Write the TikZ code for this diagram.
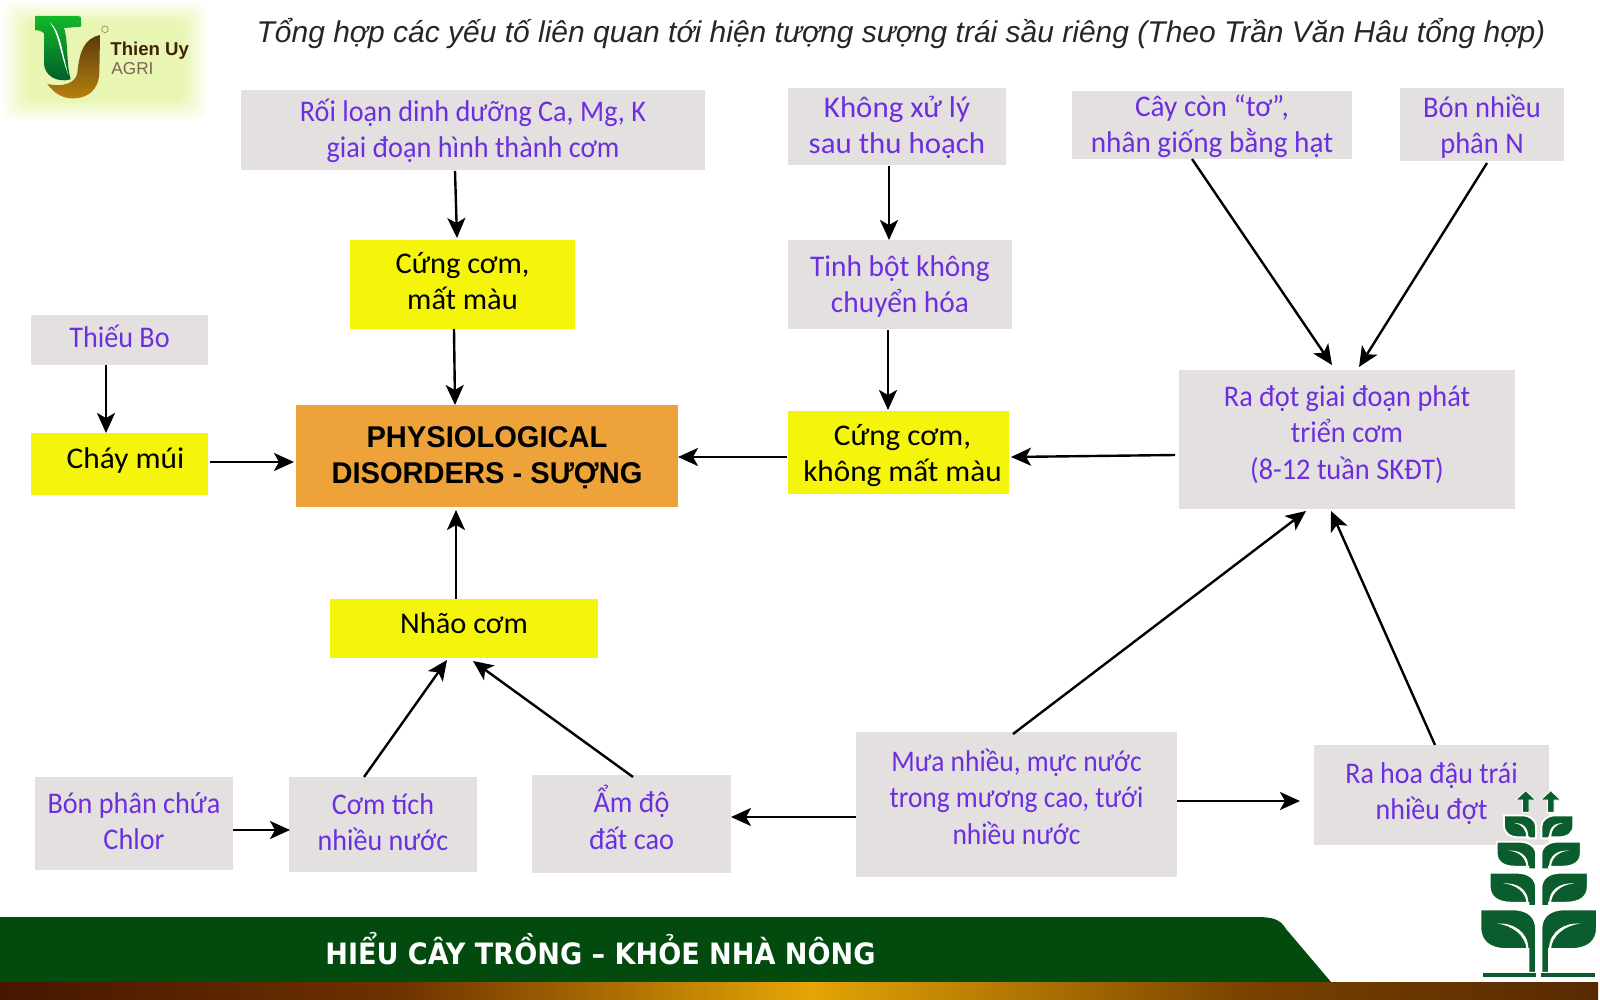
\documentclass[tikz,border=0pt]{standalone}
\usepackage{graphicx}
\usepackage{fontspec}
\setmainfont{Carlito}
\newfontfamily\arialf{Liberation Sans}
\newfontfamily\bannerf{DejaVu Sans Condensed}[BoldFont={DejaVu Sans Condensed Bold}]
\usetikzlibrary{arrows.meta,shadings}
\definecolor{txtpurple}{HTML}{6B2FE0}
\definecolor{boxgrey}{HTML}{E5E0E0}
\definecolor{boxyellow}{HTML}{F4F50A}
\definecolor{boxorange}{HTML}{EDA33A}
\definecolor{bannergreen}{HTML}{034A0E}
\definecolor{plantgreen}{HTML}{0B5D2D}
\definecolor{logobrown}{HTML}{3F2208}
\definecolor{glowlime}{HTML}{E9F6B3}
\definecolor{tgreenA}{HTML}{12B82A}
\definecolor{tgreenB}{HTML}{005A28}
\definecolor{jgoldA}{HTML}{5A3A08}
\definecolor{jgoldB}{HTML}{B8820F}
\tikzset{
  x=0.5pt,y=-0.5pt,
  greybox/.style={fill=boxgrey,text=txtpurple,font=\fontsize{15}{18.2}\selectfont,inner sep=0pt,outer sep=0pt},
  yellowbox/.style={fill=boxyellow,text=black,font=\fontsize{15}{18.2}\selectfont,inner sep=0pt,outer sep=0pt},
  orangebox/.style={fill=boxorange,text=black,font=\arialf\bfseries\fontsize{15}{18.2}\selectfont,inner sep=0pt,outer sep=0pt},
  arr/.style={-{Stealth[length=10pt,width=9pt,inset=2.5pt]},line width=1.2pt,black},
}
\newcommand{\tb}[3]{\smash{\raisebox{#1}{\scalebox{#2}[1]{\begin{tabular}{@{}c@{}}#3\end{tabular}}}}}
\newcommand{\boxnode}[7]{%
  \pgfmathsetmacro{\bw}{(#5-#3)*0.5}\pgfmathsetmacro{\bh}{(#6-#4)*0.5}%
  \pgfmathsetmacro{\bx}{(#3+#5)/2}\pgfmathsetmacro{\by}{(#4+#6)/2}%
  \node[#2,minimum width=\bw pt,minimum height=\bh pt] (#1) at (\bx,\by) {#7};}
\newcommand{\plantleaf}[4]{% outer distance, top, leaf bottom, stem bottom
  \pgfmathsetmacro{\hh}{#3-#2}\pgfmathsetmacro{\ww}{#1}%
  \pgfmathsetmacro{\ya}{#2+0.36*\hh}%
  \path[fill=plantgreen,draw=white,line width=0.9pt]
    (-\ww,#2) -- (-\ww*0.45,#2) .. controls (-30,#2) and (-8,#2+0.2*\hh) .. (-8,#2+0.5*\hh)
    -- (-8,#4) -- (-31,#4) -- (-31,#3) -- (-\ww*0.55,#3)
    .. controls (-\ww*0.85,#3) and (-\ww,#2+0.8*\hh) .. (-\ww,#2+0.45*\hh) -- cycle;
  \path[fill=white]
    (-\ww*0.72,\ya) .. controls (-\ww*0.45,\ya-0.04*\hh) and (-31,\ya+0.2*\hh) .. (-31,#3)
    -- (-37,#3) .. controls (-38,\ya+0.32*\hh) and (-\ww*0.45,\ya+0.03*\hh) .. cycle;
}
\begin{document}
\begin{tikzpicture}
\useasboundingbox (0,0) rectangle (1600,1000);
\fill[white] (0,0) rectangle (1600,1000);
% logo glow
\foreach \i in {0,...,13}{
  \pgfmathsetmacro{\ins}{2+2*\i}
  \pgfmathsetmacro{\mx}{min(100,8+7.5*\i)}
  \fill[glowlime!\mx!white,rounded corners=6pt] (\ins,\ins*0.8) rectangle (210-\ins,122-\ins*0.8);
}
% logo mark
\begin{scope}[x=0.1667pt,y=-0.1667pt]
  \shade[top color=tgreenA,bottom color=tgreenB]
    (105,48) -- (235,48) .. controls (243,48) and (243,52) .. (243,58) -- (243,80) -- (192,84)
    .. controls (205,120) and (198,190) .. (212,238)
    .. controls (170,250) and (132,225) .. (132,190) -- (132,100)
    .. controls (125,92) and (110,90) .. (105,90) -- cycle;
  \path[fill=white] (150,68) .. controls (180,90) and (185,150) .. (205,225)
    .. controls (180,160) and (176,100) .. (150,68) -- cycle;
  \shade[top color=jgoldA,bottom color=jgoldB]
    (300,105) .. controls (255,115) and (238,150) .. (232,220)
    .. controls (225,250) and (190,262) .. (142,252)
    .. controls (165,285) and (195,297) .. (225,295)
    .. controls (265,292) and (297,270) .. (298,215) -- cycle;
  \draw[logobrown!60,line width=0.3pt] (315,88) circle (10);
\end{scope}
\node[inner sep=0pt,anchor=west,text=logobrown,font=\arialf\bfseries\fontsize{9.3}{10}\selectfont] (logoname) at (110,51) {Thien Uy};
\node[inner sep=0pt,anchor=west,text=logobrown!70,font=\arialf\fontsize{8.6}{9}\selectfont] (logosub) at (111,69) {AGRI};
% title
\node[inner sep=0pt,font=\arialf\itshape\fontsize{15}{17}\selectfont,text=black!85] (title) at (901,34)
  {Tổng hợp các yếu tố liên quan tới hiện tượng sượng trái sầu riêng (Theo Trần Văn Hâu tổng hợp)};
% boxes
\boxnode{loan}{greybox}{241}{90}{705}{170}{\tb{-4.6pt}{.94}{Rối loạn dinh dưỡng Ca, Mg, K\\giai đoạn hình thành cơm}}
\boxnode{cungA}{yellowbox}{350}{240}{575}{329}{\tb{-3.35pt}{1.015}{Cứng cơm,\\mất màu}}
\boxnode{bo}{greybox}{31}{315}{208}{365}{\tb{-3.6pt}{.94}{Thiếu Bo}}
\boxnode{chay}{yellowbox}{31}{433}{208}{495}{\kern6pt\tb{-2.1pt}{1.045}{Cháy múi}}
\boxnode{disorder}{orangebox}{296}{405}{678}{507}{\tb{-4.8pt}{.97}{PHYSIOLOGICAL\\DISORDERS - SƯỢNG}}
\boxnode{khong}{greybox}{788}{88}{1006}{165}{\tb{-4.6pt}{1.03}{Không xử lý\\sau thu hoạch}}
\boxnode{tinh}{greybox}{788}{240}{1012}{329}{\tb{-4.85pt}{.98}{Tinh bột không\\chuyển hóa}}
\boxnode{cungB}{yellowbox}{788}{411}{1009}{494}{\kern4pt\tb{-5.6pt}{1.04}{Cứng cơm,\\không mất màu}}
\boxnode{cay}{greybox}{1072}{91}{1352}{159}{\tb{-4.6pt}{.975}{Cây còn “tơ”,\\nhân giống bằng hạt}}
\boxnode{bon}{greybox}{1400}{88}{1564}{161}{\tb{-5.6pt}{.95}{Bón nhiều\\phân N}}
\boxnode{radot}{greybox}{1179}{370}{1515}{509}{\tb{-1.6pt}{.945}{Ra đọt giai đoạn phát\\triển cơm\\(8-12 tuần SKĐT)}}
\boxnode{nhao}{yellowbox}{330}{599}{598}{658}{\tb{-2.6pt}{1.015}{Nhão cơm}}
\boxnode{chlor}{greybox}{35}{777}{233}{870}{\tb{-4.1pt}{.94}{Bón phân chứa\\Chlor}}
\boxnode{tich}{greybox}{289}{777}{477}{872}{\tb{-4.1pt}{.935}{Cơm tích\\nhiều nước}}
\boxnode{am}{greybox}{532}{775}{731}{873}{\tb{-2.9pt}{.943}{Ẩm độ\\đất cao}}
\boxnode{mua}{greybox}{856}{732}{1177}{877}{\tb{-1.6pt}{.915}{Mưa nhiều, mực nước\\trong mương cao, tưới\\nhiều nước}}
\boxnode{rahoa}{greybox}{1314}{745}{1549}{845}{\tb{-3.35pt}{.933}{Ra hoa đậu trái\\nhiều đợt}}
% connectors
\draw[arr] ([xshift=-9pt,yshift=-0.5pt]loan.south) -- ([xshift=-2.75pt,yshift=1pt]cungA.north);
\draw[arr] ([xshift=-4.25pt]cungA.south) -- ([xshift=-16pt]disorder.north);
\draw[arr] ([xshift=-6.75pt]bo.south) -- ([xshift=-6.75pt]chay.north);
\draw[arr] ([xshift=1pt,yshift=1pt]chay.east) -- ([xshift=-1pt,yshift=-3pt]disorder.west);
\draw[arr] ([xshift=-4pt,yshift=-0.5pt]khong.south) -- ([xshift=-5.5pt]tinh.north);
\draw[arr] ([xshift=-6pt,yshift=-0.5pt]tinh.south) -- ([xshift=-5.25pt,yshift=0.5pt]cungB.north);
\draw[arr] ([xshift=-0.5pt,yshift=-2.25pt]cungB.west) -- ([yshift=-0.5pt]disorder.east);
\draw[arr] ([xshift=-2pt,yshift=-7.75pt]radot.west) -- ([xshift=1pt,yshift=-2.25pt]cungB.east);
\draw[arr] ([xshift=-10pt]cay.south) -- ([xshift=-7.5pt,yshift=2.5pt]radot.north);
\draw[arr] ([xshift=2.5pt,yshift=-1pt]bon.south) -- ([xshift=6pt,yshift=1.5pt]radot.north);
\draw[arr] ([xshift=-1.75pt,yshift=-1pt]mua.north) -- ([xshift=-20.5pt,yshift=-1pt]radot.south);
\draw[arr] ([xshift=1.75pt]rahoa.north) -- ([xshift=-8pt,yshift=-1pt]radot.south);
\draw[arr] ([yshift=1.75pt]mua.east) -- ([xshift=-7pt,yshift=-3pt]rahoa.west);
\draw[arr] ([yshift=-6.25pt]mua.west) -- ([yshift=3.5pt]am.east);
\draw[arr] ([xshift=0.75pt,yshift=-1pt]am.north) -- ([xshift=4.5pt,yshift=-1.5pt]nhao.south);
\draw[arr] ([xshift=-9.5pt]tich.north) -- ([xshift=-8.5pt,yshift=-1pt]nhao.south);
\draw[arr] ([yshift=-3.25pt]chlor.east) -- ([xshift=0.5pt,yshift=-2.75pt]tich.west);
\draw[arr] ([xshift=-4pt]nhao.north) -- ([xshift=-15.5pt,yshift=-1.5pt]disorder.south);
% banner
\fill[bannergreen] (0,917) -- (1255,917) .. controls (1270,917) and (1280,918) .. (1286,929) -- (1331,982) -- (0,982) -- cycle;
\shade[left color={rgb,255:red,70;green,22;blue,0},right color={rgb,255:red,110;green,50;blue,0}] (0,982) rectangle (400,999);
\shade[left color={rgb,255:red,110;green,50;blue,0},right color={rgb,255:red,228;green,165;blue,5}] (400,982) rectangle (808,999);
\shade[left color={rgb,255:red,228;green,165;blue,5},right color={rgb,255:red,120;green,65;blue,0}] (808,982) rectangle (1250,999);
\shade[left color={rgb,255:red,120;green,65;blue,0},right color={rgb,255:red,88;green,42;blue,0}] (1250,982) rectangle (1598,999);
\node[inner sep=0pt,anchor=west,text=white,font=\bannerf\bfseries\fontsize{14}{16}\selectfont] (slogan) at (325,949) {\scalebox{1.075}[1.05]{HIỂU CÂY TRỒNG – KHỎE NHÀ NÔNG}};
% plant
\begin{scope}[shift={(1538.7,750)},x=0.1667pt,y=-0.1667pt]
  \foreach \s in {1,-1}{
    \begin{scope}[xscale=\s]
      \plantleaf{175}{478}{597}{668}
      \plantleaf{147}{368}{458}{468}
      \plantleaf{126}{275}{350}{358}
      \plantleaf{104}{196}{262}{265}
      \fill[plantgreen] (-168,668) rectangle (-8,680);
    \end{scope}
  }
  \foreach \ax in {-39,36}{
    \fill[plantgreen,draw=white,line width=0.4pt] (\ax-10,187) -- (\ax-10,150) -- (\ax-30,150) -- (\ax,122) -- (\ax+30,150) -- (\ax+10,150) -- (\ax+10,187) -- cycle;
  }
\end{scope}
\end{tikzpicture}
\end{document}
